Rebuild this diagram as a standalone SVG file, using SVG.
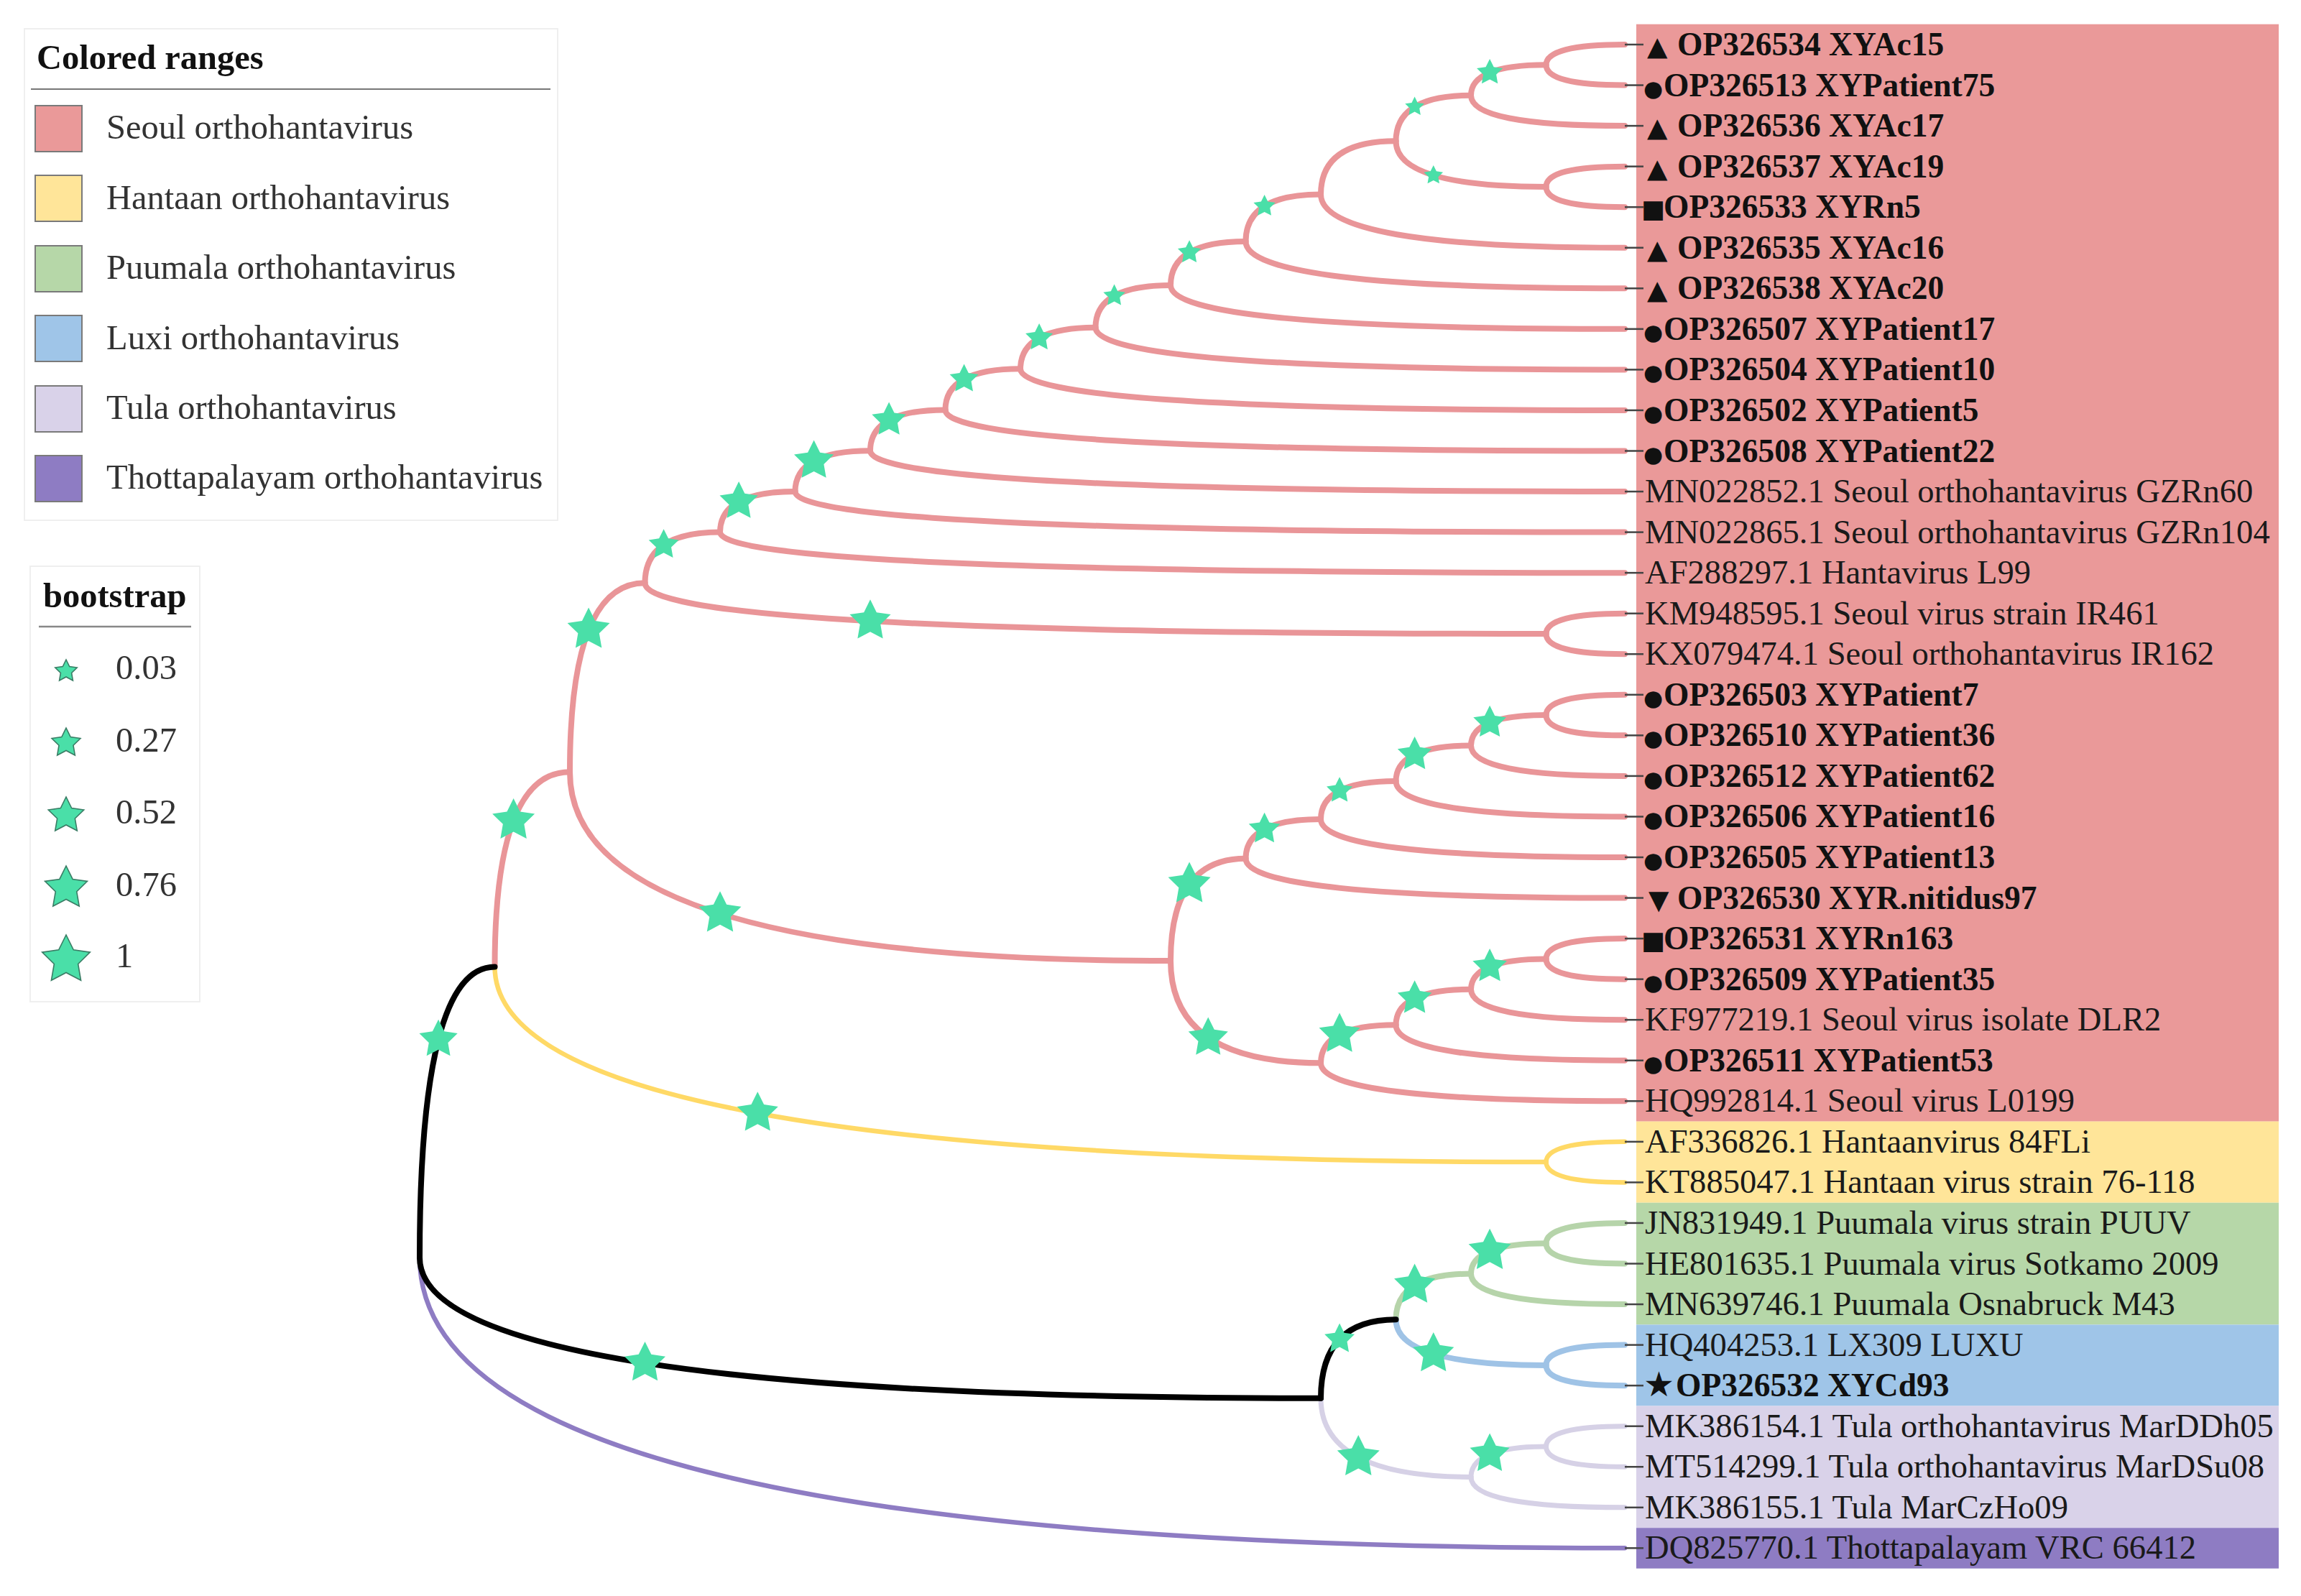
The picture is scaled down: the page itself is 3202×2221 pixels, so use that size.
<svg xmlns="http://www.w3.org/2000/svg" width="3202" height="2221" viewBox="0 0 3202 2221">
<style>
text{font-family:"Liberation Serif","DejaVu Serif",serif;}
.lg{font-size:48.5px;fill:#333;}
.lgt{font-size:48.5px;font-weight:bold;fill:#111;}
.lb{font-size:46.6px;fill:#1a1a1a;}
.lbb{font-size:45.5px;font-weight:bold;fill:#111;}
.sym{font-family:"DejaVu Sans",sans-serif;font-weight:normal;}
.tri{font-size:37px;}
.dot{font-size:31px;}
.sqs{font-size:35px;}
.br{fill:none;stroke-linecap:round;}
.pk{stroke:#E99598;stroke-width:8;}
.yl{stroke:#FFD966;stroke-width:6.5;}
.bk{stroke:#000;stroke-width:8;}
.pu{stroke:#8E7CC3;stroke-width:6.5;}
.gr{stroke:#B6D4AA;stroke-width:8;}
.bl{stroke:#9FC3E6;stroke-width:8;}
.lv{stroke:#D6D1E6;stroke-width:7;}
.tk{stroke:#444;stroke-width:2.5;}
.st{fill:#4ADFA8;}
.stl{fill:#4ADFA8;stroke:#3A7D65;}
.sq{stroke:#7a7a7a;stroke-width:2;}
</style>
<defs>
<path id="star" d="M0,-1 L0.2939,-0.4045 L0.9511,-0.309 L0.4755,0.1545 L0.5878,0.809 L0,0.5 L-0.5878,0.809 L-0.4755,0.1545 L-0.9511,-0.309 L-0.2939,-0.4045Z"/>
</defs>
<rect x="0" y="0" width="3202" height="2221" fill="#fff"/>

<g id="legend-ranges">
<rect x="34" y="40" width="742" height="684" fill="#fff" stroke="#efefef" stroke-width="2"/>
<text class="lgt" x="51" y="96">Colored ranges</text>
<line x1="43" y1="124" x2="766" y2="124" stroke="#777" stroke-width="2"/>
<rect class="sq" x="49" y="147" width="65" height="64" fill="#EA9999"/>
<text class="lg" x="148" y="193">Seoul orthohantavirus</text>
<rect class="sq" x="49" y="244" width="65" height="64" fill="#FFE599"/>
<text class="lg" x="148" y="291">Hantaan orthohantavirus</text>
<rect class="sq" x="49" y="342" width="65" height="64" fill="#B6D7A8"/>
<text class="lg" x="148" y="388">Puumala orthohantavirus</text>
<rect class="sq" x="49" y="439" width="65" height="64" fill="#9FC5E8"/>
<text class="lg" x="148" y="486">Luxi orthohantavirus</text>
<rect class="sq" x="49" y="537" width="65" height="64" fill="#D9D2E9"/>
<text class="lg" x="148" y="583">Tula orthohantavirus</text>
<rect class="sq" x="49" y="634" width="65" height="64" fill="#8E7CC3"/>
<text class="lg" x="148" y="680">Thottapalayam orthohantavirus</text>
</g>

<g id="legend-bootstrap">
<rect x="42" y="788" width="236" height="606" fill="#fff" stroke="#efefef" stroke-width="2"/>
<text class="lgt" x="60" y="845">bootstrap</text>
<line x1="54" y1="872" x2="266" y2="872" stroke="#888" stroke-width="2.5"/>
<use href="#star" class="stl" style="stroke-width:0.1" transform="translate(92,934) scale(16)"/>
<text class="lg" x="161" y="945">0.03</text>
<use href="#star" class="stl" style="stroke-width:0.076" transform="translate(92,1034) scale(21)"/>
<text class="lg" x="161" y="1046">0.27</text>
<use href="#star" class="stl" style="stroke-width:0.062" transform="translate(92,1135) scale(26)"/>
<text class="lg" x="161" y="1146">0.52</text>
<use href="#star" class="stl" style="stroke-width:0.052" transform="translate(92,1236) scale(31)"/>
<text class="lg" x="161" y="1247">0.76</text>
<use href="#star" class="stl" style="stroke-width:0.046" transform="translate(92,1336) scale(35)"/>
<text class="lg" x="161" y="1346">1</text>
</g>

<g id="ranges">
<rect x="2277" y="33.7" width="894" height="1527" fill="#EA9999"/>
<rect x="2277" y="1560.6" width="894" height="113.1" fill="#FFE599"/>
<rect x="2277" y="1673.7" width="894" height="169.7" fill="#B6D7A8"/>
<rect x="2277" y="1843.4" width="894" height="113.1" fill="#9FC5E8"/>
<rect x="2277" y="1956.5" width="894" height="169.7" fill="#D9D2E9"/>
<rect x="2277" y="2126.2" width="894" height="56.5" fill="#8E7CC3"/>
</g>

<g id="connectors" class="br">
<path class="br pk" d="M688.5,1345.6 Q688.5,1074.15 793,1074.15"/>
<path class="br pk" d="M793,1074.15 Q793,811.25 897.5,811.25"/>
<path class="br pk" d="M793,1074.15 Q793,1337.05 1629,1337.05"/>
<path class="br pk" d="M897.5,811.25 Q897.5,740.5 1002,740.5"/>
<path class="br pk" d="M897.5,811.25 Q897.5,882 2151.5,882"/>
<path class="br pk" d="M2151.5,882 Q2151.5,853.7 2261,853.7"/>
<path class="br pk" d="M2151.5,882 Q2151.5,910.25 2261,910.25"/>
<path class="br pk" d="M1002,740.5 Q1002,683.9 1106.5,683.9"/>
<path class="br pk" d="M1002,740.5 Q1002,797.15 2261,797.15"/>
<path class="br pk" d="M1106.5,683.9 Q1106.5,627.2 1211,627.2"/>
<path class="br pk" d="M1106.5,683.9 Q1106.5,740.6 2261,740.6"/>
<path class="br pk" d="M1211,627.2 Q1211,570.4 1315.5,570.4"/>
<path class="br pk" d="M1211,627.2 Q1211,684.05 2261,684.05"/>
<path class="br pk" d="M1315.5,570.4 Q1315.5,513.3 1420,513.3"/>
<path class="br pk" d="M1315.5,570.4 Q1315.5,627.5 2261,627.5"/>
<path class="br pk" d="M1420,513.3 Q1420,455.65 1524.5,455.65"/>
<path class="br pk" d="M1420,513.3 Q1420,570.95 2261,570.95"/>
<path class="br pk" d="M1524.5,455.65 Q1524.5,396.9 1629,396.9"/>
<path class="br pk" d="M1524.5,455.65 Q1524.5,514.4 2261,514.4"/>
<path class="br pk" d="M1629,396.9 Q1629,335.9 1733.5,335.9"/>
<path class="br pk" d="M1629,396.9 Q1629,457.85 2261,457.85"/>
<path class="br pk" d="M1733.5,335.9 Q1733.5,270.5 1838,270.5"/>
<path class="br pk" d="M1733.5,335.9 Q1733.5,401.3 2261,401.3"/>
<path class="br pk" d="M1838,270.5 Q1838,196.3 1942.5,196.3"/>
<path class="br pk" d="M1838,270.5 Q1838,344.75 2261,344.75"/>
<path class="br pk" d="M1942.5,196.3 Q1942.5,132.7 2047,132.7"/>
<path class="br pk" d="M1942.5,196.3 Q1942.5,259.9 2151.5,259.9"/>
<path class="br pk" d="M2047,132.7 Q2047,90.3 2151.5,90.3"/>
<path class="br pk" d="M2047,132.7 Q2047,175.1 2261,175.1"/>
<path class="br pk" d="M2151.5,90.3 Q2151.5,62 2261,62"/>
<path class="br pk" d="M2151.5,90.3 Q2151.5,118.55 2261,118.55"/>
<path class="br pk" d="M2151.5,259.9 Q2151.5,231.65 2261,231.65"/>
<path class="br pk" d="M2151.5,259.9 Q2151.5,288.2 2261,288.2"/>
<path class="br pk" d="M1629,1337.05 Q1629,1194.8 1733.5,1194.8"/>
<path class="br pk" d="M1629,1337.05 Q1629,1479.3 1838,1479.3"/>
<path class="br pk" d="M1733.5,1194.8 Q1733.5,1140 1838,1140"/>
<path class="br pk" d="M1733.5,1194.8 Q1733.5,1249.55 2261,1249.55"/>
<path class="br pk" d="M1838,1140 Q1838,1087 1942.5,1087"/>
<path class="br pk" d="M1838,1140 Q1838,1193 2261,1193"/>
<path class="br pk" d="M1942.5,1087 Q1942.5,1037.5 2047,1037.5"/>
<path class="br pk" d="M1942.5,1087 Q1942.5,1136.45 2261,1136.45"/>
<path class="br pk" d="M2047,1037.5 Q2047,995.1 2151.5,995.1"/>
<path class="br pk" d="M2047,1037.5 Q2047,1079.9 2261,1079.9"/>
<path class="br pk" d="M2151.5,995.1 Q2151.5,966.8 2261,966.8"/>
<path class="br pk" d="M2151.5,995.1 Q2151.5,1023.35 2261,1023.35"/>
<path class="br pk" d="M1838,1479.3 Q1838,1426.3 1942.5,1426.3"/>
<path class="br pk" d="M1838,1479.3 Q1838,1532.3 2261,1532.3"/>
<path class="br pk" d="M1942.5,1426.3 Q1942.5,1376.8 2047,1376.8"/>
<path class="br pk" d="M1942.5,1426.3 Q1942.5,1475.75 2261,1475.75"/>
<path class="br pk" d="M2047,1376.8 Q2047,1334.4 2151.5,1334.4"/>
<path class="br pk" d="M2047,1376.8 Q2047,1419.2 2261,1419.2"/>
<path class="br pk" d="M2151.5,1334.4 Q2151.5,1306.1 2261,1306.1"/>
<path class="br pk" d="M2151.5,1334.4 Q2151.5,1362.65 2261,1362.65"/>
<path class="br yl" d="M688.5,1345.6 Q688.5,1617.1 2151.5,1617.1"/>
<path class="br yl" d="M2151.5,1617.1 Q2151.5,1588.85 2261,1588.85"/>
<path class="br yl" d="M2151.5,1617.1 Q2151.5,1645.4 2261,1645.4"/>
<path class="br pu" d="M584,1750 Q584,2154.35 2261,2154.35"/>
<path class="br lv" d="M1838,1945.8 Q1838,2055.4 2047,2055.4"/>
<path class="br lv" d="M2047,2055.4 Q2047,2013 2151.5,2013"/>
<path class="br lv" d="M2047,2055.4 Q2047,2097.8 2261,2097.8"/>
<path class="br lv" d="M2151.5,2013 Q2151.5,1984.7 2261,1984.7"/>
<path class="br lv" d="M2151.5,2013 Q2151.5,2041.25 2261,2041.25"/>
<path class="br gr" d="M1942.5,1836.25 Q1942.5,1772.6 2047,1772.6"/>
<path class="br gr" d="M2047,1772.6 Q2047,1730.2 2151.5,1730.2"/>
<path class="br gr" d="M2047,1772.6 Q2047,1815.05 2261,1815.05"/>
<path class="br gr" d="M2151.5,1730.2 Q2151.5,1701.95 2261,1701.95"/>
<path class="br gr" d="M2151.5,1730.2 Q2151.5,1758.5 2261,1758.5"/>
<path class="br bl" d="M1942.5,1836.25 Q1942.5,1899.9 2151.5,1899.9"/>
<path class="br bl" d="M2151.5,1899.9 Q2151.5,1871.6 2261,1871.6"/>
<path class="br bl" d="M2151.5,1899.9 Q2151.5,1928.15 2261,1928.15"/>
<path class="br bk" d="M584,1750 Q584,1345.6 688.5,1345.6"/>
<path class="br bk" d="M584,1750 Q584,1945.8 1838,1945.8"/>
<path class="br bk" d="M1838,1945.8 Q1838,1836.25 1942.5,1836.25"/>
</g>

<g id="bootstrap-stars">
<use href="#star" class="st" transform="translate(610.1,1446.7) scale(28)"/>
<use href="#star" class="st" transform="translate(897.5,1896.9) scale(30)"/>
<use href="#star" class="st" transform="translate(714.6,1142) scale(31)"/>
<use href="#star" class="st" transform="translate(1054.25,1549.2) scale(30)"/>
<use href="#star" class="st" transform="translate(819.1,876.5) scale(31)"/>
<use href="#star" class="st" transform="translate(1002,1271.3) scale(31)"/>
<use href="#star" class="st" transform="translate(923.6,758.2) scale(22)"/>
<use href="#star" class="st" transform="translate(1211,864.3) scale(30)"/>
<use href="#star" class="st" transform="translate(1028.1,698.05) scale(28)"/>
<use href="#star" class="st" transform="translate(1132.6,641.4) scale(29)"/>
<use href="#star" class="st" transform="translate(1237.1,584.6) scale(25)"/>
<use href="#star" class="st" transform="translate(1341.6,527.6) scale(21)"/>
<use href="#star" class="st" transform="translate(1446.1,470.1) scale(20)"/>
<use href="#star" class="st" transform="translate(1550.6,411.6) scale(16)"/>
<use href="#star" class="st" transform="translate(1655.1,351.2) scale(17)"/>
<use href="#star" class="st" transform="translate(1759.6,286.9) scale(16)"/>
<use href="#star" class="st" transform="translate(1968.6,148.6) scale(14)"/>
<use href="#star" class="st" transform="translate(1994.75,244) scale(14)"/>
<use href="#star" class="st" transform="translate(2073.1,100.9) scale(19)"/>
<use href="#star" class="st" transform="translate(1655.1,1230.4) scale(31)"/>
<use href="#star" class="st" transform="translate(1759.6,1153.7) scale(23)"/>
<use href="#star" class="st" transform="translate(1864.1,1100.25) scale(19)"/>
<use href="#star" class="st" transform="translate(1968.6,1049.9) scale(25)"/>
<use href="#star" class="st" transform="translate(2073.1,1005.7) scale(24)"/>
<use href="#star" class="st" transform="translate(1681.25,1444.4) scale(29)"/>
<use href="#star" class="st" transform="translate(1864.1,1439.55) scale(30)"/>
<use href="#star" class="st" transform="translate(1968.6,1389.2) scale(25)"/>
<use href="#star" class="st" transform="translate(2073.1,1345) scale(25)"/>
<use href="#star" class="st" transform="translate(1864.1,1863.6) scale(22)"/>
<use href="#star" class="st" transform="translate(1968.6,1788.5) scale(30)"/>
<use href="#star" class="st" transform="translate(2073.1,1740.8) scale(31)"/>
<use href="#star" class="st" transform="translate(1994.75,1884) scale(30)"/>
<use href="#star" class="st" transform="translate(1890.25,2028) scale(31)"/>
<use href="#star" class="st" transform="translate(2073.1,2023.6) scale(29)"/>
</g>

<g id="leaves">
<g id="leaf-OP326534"><line class="tk" x1="2261" y1="62" x2="2287" y2="62"/><text class="lbb" y="77"><tspan class="sym tri" x="2292">▲</tspan><tspan x="2334">OP326534 XYAc15</tspan></text></g>
<g id="leaf-OP326513"><line class="tk" x1="2261" y1="118.55" x2="2287" y2="118.55"/><text class="lbb" y="133.55"><tspan class="sym dot" x="2287">●</tspan><tspan x="2315">OP326513 XYPatient75</tspan></text></g>
<g id="leaf-OP326536"><line class="tk" x1="2261" y1="175.1" x2="2287" y2="175.1"/><text class="lbb" y="190.1"><tspan class="sym tri" x="2292">▲</tspan><tspan x="2334">OP326536 XYAc17</tspan></text></g>
<g id="leaf-OP326537"><line class="tk" x1="2261" y1="231.65" x2="2287" y2="231.65"/><text class="lbb" y="246.65"><tspan class="sym tri" x="2292">▲</tspan><tspan x="2334">OP326537 XYAc19</tspan></text></g>
<g id="leaf-OP326533"><line class="tk" x1="2261" y1="288.2" x2="2287" y2="288.2"/><text class="lbb" y="303.2"><tspan class="sym sqs" x="2284">■</tspan><tspan x="2315">OP326533 XYRn5</tspan></text></g>
<g id="leaf-OP326535"><line class="tk" x1="2261" y1="344.75" x2="2287" y2="344.75"/><text class="lbb" y="359.75"><tspan class="sym tri" x="2292">▲</tspan><tspan x="2334">OP326535 XYAc16</tspan></text></g>
<g id="leaf-OP326538"><line class="tk" x1="2261" y1="401.3" x2="2287" y2="401.3"/><text class="lbb" y="416.3"><tspan class="sym tri" x="2292">▲</tspan><tspan x="2334">OP326538 XYAc20</tspan></text></g>
<g id="leaf-OP326507"><line class="tk" x1="2261" y1="457.85" x2="2287" y2="457.85"/><text class="lbb" y="472.85"><tspan class="sym dot" x="2287">●</tspan><tspan x="2315">OP326507 XYPatient17</tspan></text></g>
<g id="leaf-OP326504"><line class="tk" x1="2261" y1="514.4" x2="2287" y2="514.4"/><text class="lbb" y="529.4"><tspan class="sym dot" x="2287">●</tspan><tspan x="2315">OP326504 XYPatient10</tspan></text></g>
<g id="leaf-OP326502"><line class="tk" x1="2261" y1="570.95" x2="2287" y2="570.95"/><text class="lbb" y="585.95"><tspan class="sym dot" x="2287">●</tspan><tspan x="2315">OP326502 XYPatient5</tspan></text></g>
<g id="leaf-OP326508"><line class="tk" x1="2261" y1="627.5" x2="2287" y2="627.5"/><text class="lbb" y="642.5"><tspan class="sym dot" x="2287">●</tspan><tspan x="2315">OP326508 XYPatient22</tspan></text></g>
<g id="leaf-MN022852"><line class="tk" x1="2261" y1="684.05" x2="2287" y2="684.05"/><text class="lb" x="2289" y="699.05">MN022852.1 Seoul orthohantavirus GZRn60</text></g>
<g id="leaf-MN022865"><line class="tk" x1="2261" y1="740.6" x2="2287" y2="740.6"/><text class="lb" x="2289" y="755.6">MN022865.1 Seoul orthohantavirus GZRn104</text></g>
<g id="leaf-AF288297"><line class="tk" x1="2261" y1="797.15" x2="2287" y2="797.15"/><text class="lb" x="2289" y="812.15">AF288297.1 Hantavirus L99</text></g>
<g id="leaf-KM948595"><line class="tk" x1="2261" y1="853.7" x2="2287" y2="853.7"/><text class="lb" x="2289" y="868.7">KM948595.1 Seoul virus strain IR461</text></g>
<g id="leaf-KX079474"><line class="tk" x1="2261" y1="910.25" x2="2287" y2="910.25"/><text class="lb" x="2289" y="925.25">KX079474.1 Seoul orthohantavirus IR162</text></g>
<g id="leaf-OP326503"><line class="tk" x1="2261" y1="966.8" x2="2287" y2="966.8"/><text class="lbb" y="981.8"><tspan class="sym dot" x="2287">●</tspan><tspan x="2315">OP326503 XYPatient7</tspan></text></g>
<g id="leaf-OP326510"><line class="tk" x1="2261" y1="1023.35" x2="2287" y2="1023.35"/><text class="lbb" y="1038.35"><tspan class="sym dot" x="2287">●</tspan><tspan x="2315">OP326510 XYPatient36</tspan></text></g>
<g id="leaf-OP326512"><line class="tk" x1="2261" y1="1079.9" x2="2287" y2="1079.9"/><text class="lbb" y="1094.9"><tspan class="sym dot" x="2287">●</tspan><tspan x="2315">OP326512 XYPatient62</tspan></text></g>
<g id="leaf-OP326506"><line class="tk" x1="2261" y1="1136.45" x2="2287" y2="1136.45"/><text class="lbb" y="1151.45"><tspan class="sym dot" x="2287">●</tspan><tspan x="2315">OP326506 XYPatient16</tspan></text></g>
<g id="leaf-OP326505"><line class="tk" x1="2261" y1="1193" x2="2287" y2="1193"/><text class="lbb" y="1208"><tspan class="sym dot" x="2287">●</tspan><tspan x="2315">OP326505 XYPatient13</tspan></text></g>
<g id="leaf-OP326530"><line class="tk" x1="2261" y1="1249.55" x2="2287" y2="1249.55"/><text class="lbb" y="1264.55"><tspan class="sym tri" x="2294">▼</tspan><tspan x="2334">OP326530 XYR.nitidus97</tspan></text></g>
<g id="leaf-OP326531"><line class="tk" x1="2261" y1="1306.1" x2="2287" y2="1306.1"/><text class="lbb" y="1321.1"><tspan class="sym sqs" x="2284">■</tspan><tspan x="2315">OP326531 XYRn163</tspan></text></g>
<g id="leaf-OP326509"><line class="tk" x1="2261" y1="1362.65" x2="2287" y2="1362.65"/><text class="lbb" y="1377.65"><tspan class="sym dot" x="2287">●</tspan><tspan x="2315">OP326509 XYPatient35</tspan></text></g>
<g id="leaf-KF977219"><line class="tk" x1="2261" y1="1419.2" x2="2287" y2="1419.2"/><text class="lb" x="2289" y="1434.2">KF977219.1 Seoul virus isolate DLR2</text></g>
<g id="leaf-OP326511"><line class="tk" x1="2261" y1="1475.75" x2="2287" y2="1475.75"/><text class="lbb" y="1490.75"><tspan class="sym dot" x="2287">●</tspan><tspan x="2315">OP326511 XYPatient53</tspan></text></g>
<g id="leaf-HQ992814"><line class="tk" x1="2261" y1="1532.3" x2="2287" y2="1532.3"/><text class="lb" x="2289" y="1547.3">HQ992814.1 Seoul virus L0199</text></g>
<g id="leaf-AF336826"><line class="tk" x1="2261" y1="1588.85" x2="2287" y2="1588.85"/><text class="lb" x="2289" y="1603.85">AF336826.1 Hantaanvirus 84FLi</text></g>
<g id="leaf-KT885047"><line class="tk" x1="2261" y1="1645.4" x2="2287" y2="1645.4"/><text class="lb" x="2289" y="1660.4">KT885047.1 Hantaan virus strain 76-118</text></g>
<g id="leaf-JN831949"><line class="tk" x1="2261" y1="1701.95" x2="2287" y2="1701.95"/><text class="lb" x="2289" y="1716.95">JN831949.1 Puumala virus strain PUUV</text></g>
<g id="leaf-HE801635"><line class="tk" x1="2261" y1="1758.5" x2="2287" y2="1758.5"/><text class="lb" x="2289" y="1773.5">HE801635.1 Puumala virus Sotkamo 2009</text></g>
<g id="leaf-MN639746"><line class="tk" x1="2261" y1="1815.05" x2="2287" y2="1815.05"/><text class="lb" x="2289" y="1830.05">MN639746.1 Puumala Osnabruck M43</text></g>
<g id="leaf-HQ404253"><line class="tk" x1="2261" y1="1871.6" x2="2287" y2="1871.6"/><text class="lb" x="2289" y="1886.6">HQ404253.1 LX309 LUXU</text></g>
<g id="leaf-OP326532"><line class="tk" x1="2261" y1="1928.15" x2="2287" y2="1928.15"/><text class="lbb" y="1943.15"><tspan class="sym" x="2287" font-size="48">★</tspan><tspan x="2332">OP326532 XYCd93</tspan></text></g>
<g id="leaf-MK386154"><line class="tk" x1="2261" y1="1984.7" x2="2287" y2="1984.7"/><text class="lb" x="2289" y="1999.7">MK386154.1 Tula orthohantavirus MarDDh05</text></g>
<g id="leaf-MT514299"><line class="tk" x1="2261" y1="2041.25" x2="2287" y2="2041.25"/><text class="lb" x="2289" y="2056.25">MT514299.1 Tula orthohantavirus MarDSu08</text></g>
<g id="leaf-MK386155"><line class="tk" x1="2261" y1="2097.8" x2="2287" y2="2097.8"/><text class="lb" x="2289" y="2112.8">MK386155.1 Tula MarCzHo09</text></g>
<g id="leaf-DQ825770"><line class="tk" x1="2261" y1="2154.35" x2="2287" y2="2154.35"/><text class="lb" x="2289" y="2169.35">DQ825770.1 Thottapalayam VRC 66412</text></g>
</g>
</svg>
